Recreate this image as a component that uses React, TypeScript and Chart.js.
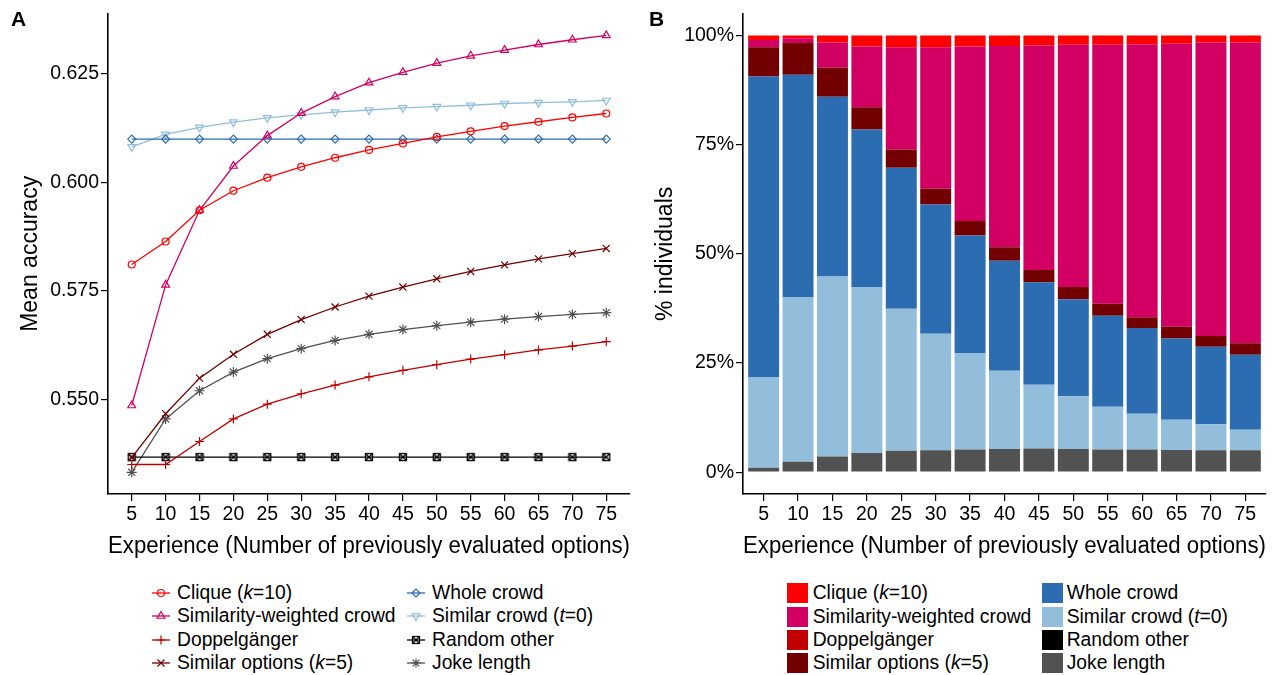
import React, { useEffect, useRef } from "react";
import { Chart, registerables } from "chart.js";
Chart.register(...registerables);

// ---------- DATA ----------
const experience = [5, 10, 15, 20, 25, 30, 35, 40, 45, 50, 55, 60, 65, 70, 75];

// Panel A: mean accuracy
const cliqueAcc = [0.5811, 0.5864, 0.5936, 0.5981, 0.6011, 0.6036, 0.6057, 0.6075, 0.609, 0.6105, 0.6118, 0.613, 0.614, 0.615, 0.6159];
const simWeightedAcc = [0.5486, 0.5764, 0.5936, 0.6038, 0.6108, 0.616, 0.6198, 0.623, 0.6254, 0.6275, 0.6292, 0.6305, 0.6318, 0.6329, 0.6339];
const doppelAcc = [0.535, 0.535, 0.5403, 0.5455, 0.5489, 0.5513, 0.5533, 0.5552, 0.5567, 0.558, 0.5593, 0.5603, 0.5614, 0.5623, 0.5633];
const simOptionsAcc = [0.5366, 0.5467, 0.5549, 0.5604, 0.565, 0.5684, 0.5713, 0.5738, 0.5759, 0.5778, 0.5795, 0.581, 0.5824, 0.5836, 0.5848];
const wholeCrowdAcc = [0.61, 0.61, 0.61, 0.61, 0.61, 0.61, 0.61, 0.61, 0.61, 0.61, 0.61, 0.61, 0.61, 0.61, 0.61];
const simCrowdAcc = [0.6082, 0.6111, 0.6127, 0.6139, 0.6149, 0.6156, 0.6162, 0.6167, 0.6172, 0.6175, 0.6178, 0.6182, 0.6184, 0.6186, 0.6189];
const randomOtherAcc = [0.5367, 0.5367, 0.5367, 0.5367, 0.5367, 0.5367, 0.5367, 0.5367, 0.5367, 0.5367, 0.5367, 0.5367, 0.5367, 0.5367, 0.5367];
const jokeLengthAcc = [0.5332, 0.5455, 0.552, 0.5563, 0.5594, 0.5617, 0.5636, 0.565, 0.5661, 0.567, 0.5678, 0.5685, 0.5691, 0.5696, 0.57];

const yTicksA = [0.55, 0.575, 0.6, 0.625];

// Panel B: % individuals best served by each strategy
const jokeLengthPct = [1.0, 2.4, 3.6, 4.4, 4.9, 5.0, 5.2, 5.3, 5.4, 5.3, 5.2, 5.2, 5.1, 5.0, 5.0];
const randomOtherPct = [0, 0, 0, 0, 0, 0, 0, 0, 0, 0, 0, 0, 0, 0, 0];
const simCrowdPct = [20.7, 37.7, 41.2, 38.0, 32.5, 26.7, 22.1, 17.9, 14.6, 12.1, 9.8, 8.2, 6.9, 6.0, 4.7];
const wholeCrowdPct = [68.9, 50.9, 41.2, 36.1, 32.3, 29.6, 26.9, 25.2, 23.5, 22.2, 20.8, 19.6, 18.6, 17.7, 17.2];
const simOptionsPct = [6.7, 7.3, 6.6, 5.1, 4.2, 3.6, 3.3, 3.1, 2.8, 2.8, 2.8, 2.5, 2.7, 2.5, 2.6];
const doppelPct = [0, 0, 0, 0, 0, 0, 0, 0, 0, 0, 0, 0, 0, 0, 0];
const simWeightedPct = [1.7, 1.1, 5.8, 13.9, 23.4, 32.4, 40.0, 46.1, 51.4, 55.5, 59.3, 62.5, 64.8, 67.2, 68.9];
const cliquePct = [1.0, 0.6, 1.6, 2.5, 2.7, 2.7, 2.5, 2.4, 2.3, 2.1, 2.1, 2.0, 1.9, 1.6, 1.6];

const yTicksB = [0, 25, 50, 75, 100];

// ---------- STYLE ----------
const FONT = "'Liberation Sans', Arial, Helvetica, sans-serif";
const C = {
  clique: "#FF0000",
  simWeighted: "#D20062",
  doppel: "#C00000",
  simOptions: "#730000",
  whole: "#2B6DB0",
  simCrowd: "#92BEDB",
  random: "#000000",
  joke: "#525252",
};

function makeSquareCross(color: string) {
  const c = document.createElement("canvas");
  c.width = 10;
  c.height = 10;
  const g = c.getContext("2d")!;
  g.strokeStyle = color;
  g.lineWidth = 1.3;
  g.strokeRect(1.5, 1.5, 7, 7);
  g.beginPath();
  g.moveTo(1.5, 1.5);
  g.lineTo(8.5, 8.5);
  g.moveTo(8.5, 1.5);
  g.lineTo(1.5, 8.5);
  g.stroke();
  return c;
}

const toXY = (vals: number[]) => vals.map((v, i) => ({ x: experience[i], y: v }));

function PanelA() {
  const ref = useRef<HTMLCanvasElement>(null);
  useEffect(() => {
    const sq = makeSquareCross(C.random);
    const mk = (label: string, vals: number[], color: string, style: any, radius: number, rot = 0) => ({
      label,
      data: toXY(vals),
      borderColor: color,
      borderWidth: 1.3,
      pointStyle: style,
      pointRadius: radius,
      pointRotation: rot,
      pointBorderColor: color,
      pointBackgroundColor: "rgba(0,0,0,0)",
      pointBorderWidth: 1.2,
      tension: 0,
    });
    const chart = new Chart(ref.current!, {
      type: "line",
      data: {
        datasets: [
          mk("Clique (k=10)", cliqueAcc, C.clique, "circle", 3.5),
          mk("Similarity-weighted crowd", simWeightedAcc, C.simWeighted, "triangle", 4.5),
          mk("Doppelgänger", doppelAcc, C.doppel, "cross", 4.5),
          mk("Similar options (k=5)", simOptionsAcc, C.simOptions, "crossRot", 5),
          mk("Whole crowd", wholeCrowdAcc, C.whole, "rectRot", 4),
          mk("Similar crowd (t=0)", simCrowdAcc, C.simCrowd, "triangle", 4.5, 180),
          mk("Random other", randomOtherAcc, C.random, sq, 4),
          mk("Joke length", jokeLengthAcc, C.joke, "star", 5),
        ] as any,
      },
      options: {
        animation: false,
        responsive: false,
        maintainAspectRatio: false,
        layout: { padding: { top: 13, right: 10, left: 0, bottom: 0 } },
        plugins: { legend: { display: false }, tooltip: { enabled: false } },
        scales: {
          x: {
            type: "linear",
            min: 1.5,
            max: 78.5,
            afterBuildTicks: (s: any) => {
              s.ticks = experience.map((v) => ({ value: v }));
            },
            afterFit: (s: any) => {
              s.height = 66;
            },
            grid: { drawOnChartArea: false, drawTicks: true, tickLength: 7, color: "#000", lineWidth: 1.2 },
            border: { display: true, color: "#000", width: 1.6 },
            ticks: { font: { family: FONT, size: 19.5 }, color: "#000", padding: 2, maxRotation: 0, autoSkip: false },
            title: {
              display: true,
              text: "Experience (Number of previously evaluated options)",
              font: { family: FONT, size: 23 },
              color: "#000",
              padding: { top: 5, bottom: 0 },
            },
          },
          y: {
            type: "linear",
            min: 0.5282,
            max: 0.6389,
            afterBuildTicks: (s: any) => {
              s.ticks = yTicksA.map((v) => ({ value: v }));
            },
            afterFit: (s: any) => {
              s.width = 108;
            },
            grid: { drawOnChartArea: false, drawTicks: true, tickLength: 7, color: "#000", lineWidth: 1.2 },
            border: { display: true, color: "#000", width: 1.6 },
            ticks: {
              font: { family: FONT, size: 19.5 },
              color: "#000",
              padding: 2,
              callback: (v: any) => Number(v).toFixed(3),
            },
            title: {
              display: true,
              text: "Mean accuracy",
              font: { family: FONT, size: 23 },
              color: "#000",
              padding: { top: 17, bottom: 0 },
            },
          },
        },
      } as any,
    });
    return () => chart.destroy();
  }, []);
  return (
    <canvas
      ref={ref}
      width={640}
      height={560}
      style={{ position: "absolute", left: 0, top: 0, width: 640, height: 560 }}
    />
  );
}

function PanelB() {
  const ref = useRef<HTMLCanvasElement>(null);
  useEffect(() => {
    const mk = (label: string, vals: number[], color: string) => ({
      label,
      data: toXY(vals),
      backgroundColor: color,
      borderWidth: 0,
      barPercentage: 0.9,
      categoryPercentage: 1.0,
    });
    const chart = new Chart(ref.current!, {
      type: "bar",
      data: {
        datasets: [
          mk("Joke length", jokeLengthPct, C.joke),
          mk("Random other", randomOtherPct, C.random),
          mk("Similar crowd (t=0)", simCrowdPct, C.simCrowd),
          mk("Whole crowd", wholeCrowdPct, C.whole),
          mk("Similar options (k=5)", simOptionsPct, C.simOptions),
          mk("Doppelgänger", doppelPct, C.doppel),
          mk("Similarity-weighted crowd", simWeightedPct, C.simWeighted),
          mk("Clique (k=10)", cliquePct, C.clique),
        ] as any,
      },
      options: {
        animation: false,
        responsive: false,
        maintainAspectRatio: false,
        layout: { padding: { top: 13, right: 14, left: 0, bottom: 0 } },
        plugins: { legend: { display: false }, tooltip: { enabled: false } },
        scales: {
          x: {
            type: "linear",
            stacked: true,
            min: 2,
            max: 78,
            offset: false,
            afterBuildTicks: (s: any) => {
              s.ticks = experience.map((v) => ({ value: v }));
            },
            afterFit: (s: any) => {
              s.height = 66;
            },
            grid: { drawOnChartArea: false, drawTicks: true, tickLength: 7, color: "#000", lineWidth: 1.2, offset: false },
            border: { display: true, color: "#000", width: 1.6 },
            ticks: { font: { family: FONT, size: 19.5 }, color: "#000", padding: 2, maxRotation: 0, autoSkip: false },
            title: {
              display: true,
              text: "Experience (Number of previously evaluated options)",
              font: { family: FONT, size: 23 },
              color: "#000",
              padding: { top: 5, bottom: 0 },
            },
          },
          y: {
            type: "linear",
            stacked: true,
            min: -5,
            max: 105,
            afterBuildTicks: (s: any) => {
              s.ticks = yTicksB.map((v) => ({ value: v }));
            },
            afterFit: (s: any) => {
              s.width = 103;
            },
            grid: { drawOnChartArea: false, drawTicks: true, tickLength: 7, color: "#000", lineWidth: 1.2 },
            border: { display: true, color: "#000", width: 1.6 },
            ticks: {
              font: { family: FONT, size: 19.5 },
              color: "#000",
              padding: 2,
              callback: (v: any) => `${v}%`,
            },
            title: {
              display: true,
              text: "% individuals",
              font: { family: FONT, size: 23 },
              color: "#000",
              padding: { top: 12, bottom: 0 },
            },
          },
        },
      } as any,
    });
    return () => chart.destroy();
  }, []);
  return (
    <canvas
      ref={ref}
      width={640}
      height={560}
      style={{ position: "absolute", left: 640, top: 0, width: 640, height: 560 }}
    />
  );
}

// ---------- LEGENDS ----------
function Marker({ kind, color }: { kind: string; color: string }) {
  const cx = 10, cy = 10;
  let m: React.ReactNode = null;
  const sw = 1.2;
  if (kind === "circle") m = <circle cx={cx} cy={cy} r={3.5} fill="none" stroke={color} strokeWidth={sw} />;
  if (kind === "triangle")
    m = <polygon points={`${cx},${cy - 4.5} ${cx + 3.9},${cy + 2.25} ${cx - 3.9},${cy + 2.25}`} fill="none" stroke={color} strokeWidth={sw} />;
  if (kind === "triangleDown")
    m = <polygon points={`${cx},${cy + 4.5} ${cx + 3.9},${cy - 2.25} ${cx - 3.9},${cy - 2.25}`} fill="none" stroke={color} strokeWidth={sw} />;
  if (kind === "cross")
    m = <path d={`M${cx - 4.5} ${cy}H${cx + 4.5}M${cx} ${cy - 4.5}V${cy + 4.5}`} stroke={color} strokeWidth={sw} />;
  if (kind === "crossRot")
    m = <path d={`M${cx - 3.5} ${cy - 3.5}L${cx + 3.5} ${cy + 3.5}M${cx + 3.5} ${cy - 3.5}L${cx - 3.5} ${cy + 3.5}`} stroke={color} strokeWidth={sw} />;
  if (kind === "diamond")
    m = <polygon points={`${cx - 4},${cy} ${cx},${cy - 4} ${cx + 4},${cy} ${cx},${cy + 4}`} fill="none" stroke={color} strokeWidth={sw} />;
  if (kind === "sqcross")
    m = (
      <g stroke={color} strokeWidth={sw} fill="none">
        <rect x={cx - 3.5} y={cy - 3.5} width={7} height={7} />
        <path d={`M${cx - 3.5} ${cy - 3.5}L${cx + 3.5} ${cy + 3.5}M${cx + 3.5} ${cy - 3.5}L${cx - 3.5} ${cy + 3.5}`} />
      </g>
    );
  if (kind === "star")
    m = (
      <path
        d={`M${cx - 4.5} ${cy}H${cx + 4.5}M${cx} ${cy - 4.5}V${cy + 4.5}M${cx - 3.3} ${cy - 3.3}L${cx + 3.3} ${cy + 3.3}M${cx + 3.3} ${cy - 3.3}L${cx - 3.3} ${cy + 3.3}`}
        stroke={color}
        strokeWidth={sw}
      />
    );
  return (
    <svg width={20} height={20} style={{ position: "absolute", left: 0, top: -10 }}>
      <line x1={1} y1={10} x2={19} y2={10} stroke={color} strokeWidth={1.3} />
      {m}
    </svg>
  );
}

const legendLabels: React.ReactNode[] = [
  <>Clique (<i>k</i>=10)</>,
  <>Similarity-weighted crowd</>,
  <>Doppelgänger</>,
  <>Similar options (<i>k</i>=5)</>,
  <>Whole crowd</>,
  <>Similar crowd (<i>t</i>=0)</>,
  <>Random other</>,
  <>Joke length</>,
];
const legendColors = [C.clique, C.simWeighted, C.doppel, C.simOptions, C.whole, C.simCrowd, C.random, C.joke];
const legendMarkers = ["circle", "triangle", "cross", "crossRot", "diamond", "triangleDown", "sqcross", "star"];

function LegendA() {
  const rows = [593, 616.3, 639.6, 662.8];
  return (
    <>
      {legendLabels.map((lab, i) => {
        const col = Math.floor(i / 4);
        const row = i % 4;
        const gx = col === 0 ? 151 : 406;
        const tx = col === 0 ? 177 : 432;
        const y = rows[row];
        return (
          <React.Fragment key={i}>
            <div style={{ position: "absolute", left: gx, top: y, width: 20, height: 0 }}>
              <Marker kind={legendMarkers[i]} color={legendColors[i]} />
            </div>
            <div
              style={{
                position: "absolute",
                left: tx,
                top: y,
                transform: "translateY(-50%)",
                fontSize: 19.3,
                lineHeight: 1,
                whiteSpace: "nowrap",
                color: "#000",
              }}
            >
              {lab}
            </div>
          </React.Fragment>
        );
      })}
    </>
  );
}

function LegendB() {
  const rows = [593.3, 616.7, 640, 663.3];
  return (
    <>
      {legendLabels.map((lab, i) => {
        const col = Math.floor(i / 4);
        const row = i % 4;
        const sx = col === 0 ? 787 : 1041.7;
        const tx = col === 0 ? 812.7 : 1066.7;
        const y = rows[row];
        return (
          <React.Fragment key={i}>
            <div
              style={{
                position: "absolute",
                left: sx,
                top: y - 10,
                width: 21,
                height: 20,
                background: legendColors[i],
              }}
            />
            <div
              style={{
                position: "absolute",
                left: tx,
                top: y,
                transform: "translateY(-50%)",
                fontSize: 19.3,
                lineHeight: 1,
                whiteSpace: "nowrap",
                color: "#000",
              }}
            >
              {lab}
            </div>
          </React.Fragment>
        );
      })}
    </>
  );
}

export default function App() {
  return (
    <div
      style={{
        position: "absolute",
        left: 0,
        top: 0,
        width: 1280,
        height: 675,
        overflow: "hidden",
        background: "#fff",
        fontFamily: FONT,
      }}
    >
      <PanelA />
      <PanelB />
      <div style={{ position: "absolute", left: 11, top: 8, fontSize: 21, fontWeight: "bold", lineHeight: 1 }}>A</div>
      <div style={{ position: "absolute", left: 649, top: 8, fontSize: 21, fontWeight: "bold", lineHeight: 1 }}>B</div>
      <LegendA />
      <LegendB />
    </div>
  );
}
